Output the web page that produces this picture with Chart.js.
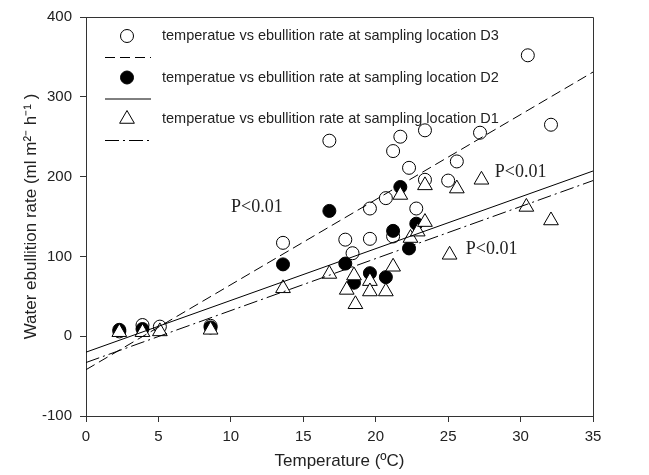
<!DOCTYPE html>
<html>
<head>
<meta charset="utf-8">
<script src="https://cdn.jsdelivr.net/npm/chart.js@4.4.1/dist/chart.umd.min.js"></script>
<style>
  html, body { margin: 0; padding: 0; background: #fff; }
  #wrap { width: 649px; height: 475px; }
</style>
</head>
<body>
<div id="wrap"><canvas id="chart" width="649" height="475"></canvas></div>
<script>
// sampling location D3 (open circles)
const d3Temp = [2.3, 3.9, 5.1, 8.6, 13.6, 16.8, 17.9, 18.4, 19.6, 19.6, 20.7, 21.2, 21.2, 21.7, 22.3, 22.8, 23.4, 23.4, 25.0, 25.6, 27.2, 30.5, 32.1];
const d3Rate = [6, 14, 12, 13, 117, 245, 121, 104, 122, 160, 173, 232, 125, 250, 211, 160, 258, 196, 195, 219, 255, 352, 265];

// sampling location D2 (filled circles)
const d2Temp = [2.3, 3.9, 8.6, 13.6, 16.8, 17.9, 18.5, 19.6, 20.7, 21.2, 21.7, 22.3, 22.8];
const d2Rate = [8, 9, 11, 90, 157, 91, 67, 79, 74, 132, 187, 110, 141];

// sampling location D1 (triangles)
const d1Temp = [2.3, 3.9, 5.1, 8.6, 13.6, 16.8, 18.0, 18.5, 18.6, 19.6, 19.6, 20.7, 21.2, 21.7, 22.4, 22.9, 23.4, 23.4, 25.1, 25.6, 27.3, 30.4, 32.1];
const d1Rate = [5, 5, 6, 8, 60, 78, 58, 76, 40, 69, 56, 56, 87, 177, 123, 131, 143, 189, 102, 185, 196, 162, 145];

// regression lines, end points
const fitTemp = [0, 35];
const d3Fit = [-42, 331];
const d2Fit = [-20, 207];
const d1Fit = [-33, 195];

// significance notes
const noteText = ['P<0.01', 'P<0.01', 'P<0.01'];
const noteTemp = [11.8, 30.0, 28.0];
const noteRate = [161, 205, 109];

const legendLabels = [
  'temperatue vs ebullition rate at sampling location D3',
  'temperatue vs ebullition rate at sampling location D2',
  'temperatue vs ebullition rate at sampling location D1'
];

const sans = '"Liberation Sans", Arial, sans-serif';
const serif = '"Liberation Serif", "Times New Roman", serif';

const pts = (xs, ys) => xs.map((x, i) => ({ x, y: ys[i] }));

const marker = [
  { style: 'circle', r: 6.5, fill: '#fff' },
  { style: 'circle', r: 6.5, fill: '#000' },
  { style: 'triangle', r: 8.5, fill: '#fff' }
];
const dashes = [[10, 5], [], [14, 4, 2, 4]];

function drawMarker(ctx, m, x, y) {
  ctx.beginPath();
  if (m.style === 'circle') {
    ctx.arc(x, y, m.r, 0, Math.PI * 2);
  } else {
    for (let k = 0; k < 3; k++) {
      const a = k * 2 * Math.PI / 3;
      const px = x + Math.sin(a) * m.r, py = y - Math.cos(a) * m.r;
      k ? ctx.lineTo(px, py) : ctx.moveTo(px, py);
    }
    ctx.closePath();
  }
  ctx.fillStyle = m.fill;
  ctx.fill();
  ctx.stroke();
}

const extras = {
  id: 'extras',
  afterDraw(chart) {
    const { ctx, chartArea: a, scales } = chart;
    ctx.save();
    // frame top + right
    ctx.strokeStyle = '#333';
    ctx.lineWidth = 1;
    ctx.beginPath();
    ctx.moveTo(a.left, a.top + 0.5);
    ctx.lineTo(a.right + 0.5, a.top + 0.5);
    ctx.lineTo(a.right + 0.5, a.bottom);
    ctx.stroke();

    // legend inside plot
    ctx.font = '14.5px ' + sans;
    ctx.textBaseline = 'middle';
    ctx.textAlign = 'left';
    for (let i = 0; i < 3; i++) {
      const yMark = 36 + i * 41.5;
      const yLine = yMark + 21.5;
      ctx.strokeStyle = '#000';
      ctx.setLineDash([]);
      drawMarker(ctx, marker[i], 127, yMark);
      ctx.fillStyle = '#222';
      ctx.fillText(legendLabels[i], 162, yMark);
      ctx.setLineDash(dashes[i]);
      ctx.beginPath();
      ctx.moveTo(105, yLine);
      ctx.lineTo(151, yLine);
      ctx.stroke();
    }
    ctx.setLineDash([]);

    // P values
    ctx.font = '18px ' + serif;
    ctx.textAlign = 'center';
    ctx.fillStyle = '#222';
    noteText.forEach((t, i) => {
      ctx.fillText(t, scales.x.getPixelForValue(noteTemp[i]), scales.y.getPixelForValue(noteRate[i]));
    });
    ctx.restore();
  }
};

const scatterSet = (data, i, order) => ({
  type: 'scatter',
  data,
  pointStyle: marker[i].style,
  pointRadius: marker[i].r,
  pointHoverRadius: marker[i].r,
  pointBackgroundColor: marker[i].fill,
  pointBorderColor: '#000',
  pointBorderWidth: 1,
  order
});

const lineSet = (ys, i) => ({
  type: 'line',
  data: pts(fitTemp, ys),
  borderColor: '#000',
  borderWidth: 1,
  borderDash: dashes[i],
  pointRadius: 0,
  fill: false,
  order: -1
});

const tickFont = { family: sans, size: 15 };

new Chart(document.getElementById('chart'), {
  type: 'scatter',
  data: {
    datasets: [
      scatterSet(pts(d3Temp, d3Rate), 0, 3),
      scatterSet(pts(d2Temp, d2Rate), 1, 2),
      scatterSet(pts(d1Temp, d1Rate), 2, 1),
      lineSet(d3Fit, 0),
      lineSet(d2Fit, 1),
      lineSet(d1Fit, 2)
    ]
  },
  options: {
    responsive: false,
    animation: false,
    layout: { padding: { top: 17, right: 56, left: 0, bottom: 0 } },
    plugins: { legend: { display: false }, tooltip: { enabled: false } },
    scales: {
      x: {
        type: 'linear', min: 0, max: 35,
        ticks: { stepSize: 5, color: '#222', font: tickFont, padding: 6 },
        grid: { drawOnChartArea: false, drawTicks: true, tickLength: 6, color: '#333' },
        border: { color: '#333', width: 1 },
        title: { display: true, text: 'Temperature (ºC)', color: '#222', font: { family: sans, size: 17 }, padding: { top: 0, bottom: 3 } },
        afterFit(s) { s.height = 59; }
      },
      y: {
        type: 'linear', min: -100, max: 400,
        ticks: { stepSize: 100, color: '#222', font: tickFont, padding: 8 },
        grid: { drawOnChartArea: false, drawTicks: true, tickLength: 6, color: '#333' },
        border: { color: '#333', width: 1 },
        title: { display: true, text: 'Water ebullition rate (ml m²⁻ h⁻¹ )', color: '#222', font: { family: sans, size: 17 }, padding: { top: 21, bottom: 0 } },
        afterFit(s) { s.width = 86; }
      }
    }
  },
  plugins: [extras]
});
</script>
</body>
</html>
